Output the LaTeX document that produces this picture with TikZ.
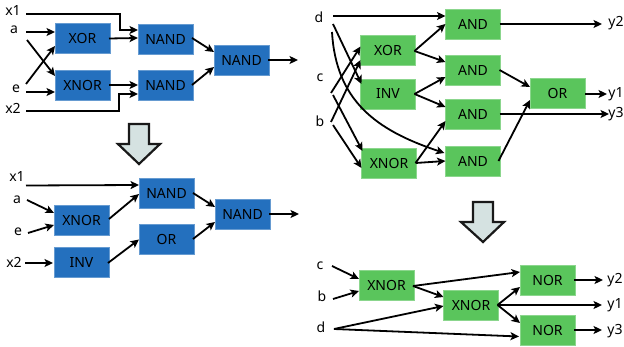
\documentclass[tikz,border=0pt]{standalone}
\usepackage{fontspec}
\setmainfont{Noto Sans}
\usetikzlibrary{arrows.meta,calc}
\definecolor{gblue}{HTML}{2470BE}
\definecolor{ggreen}{HTML}{5AC55C}
\definecolor{bigarrow}{HTML}{D5E2E1}
\tikzset{
  gate/.style={minimum width=55pt,minimum height=30pt,inner sep=0pt,outer sep=0pt,font=\fontsize{14}{14}\selectfont,text=black},
  bluegate/.style={gate,fill=gblue,draw=gblue!70!white,line width=.6pt},
  greengate/.style={gate,fill=ggreen,draw=ggreen!70!white,line width=.6pt},
  sig/.style={inner sep=0pt,outer sep=0pt,anchor=base,font=\fontsize{14}{14}\selectfont,text=black},
  wire/.style={line width=1.8pt,black,-{Stealth[length=8.5pt,width=8pt,inset=2pt]}},
  down/.style={line width=2.2pt,draw=black!90,fill=bigarrow,miter limit=10}
}
\begin{document}
\begin{tikzpicture}[x=1pt,y=-1pt]
\useasboundingbox (0,0) rectangle (624,347);
% ---------- top left
\node[bluegate] (t1) at (82.5,38.5) {XOR};
\node[bluegate] (t2) at (82.5,85) {XNOR};
\node[bluegate] (t3) at (165.5,39) {NAND};
\node[bluegate] (t4) at (165.5,85) {NAND};
\node[bluegate] (t5) at (241.5,60) {NAND};
\node[sig] (tx1) at (13,16) {x1};
\node[sig] (ta) at (14,34) {a};
\node[sig] (te) at (16,93) {e};
\node[sig] (tx2) at (13,114) {x2};
\coordinate (tout) at (298,60);
\draw[wire] ($(tx1.base)+(13,-2)$) -| ($(t3.west)+(-18,-9)$) -- ($(t3.west)+(0,-9)$);
\draw[wire] ($(ta.base)+(12,-2)$) -- ($(t1.west)+(0,-6.5)$);
\draw[wire] ($(ta.base)+(13,6)$) -- ($(t2.west)+(0,-9)$);
\draw[wire] ($(te.base)+(10,-9)$) -- ($(t1.west)+(0,7.5)$);
\draw[wire] ($(te.base)+(10,-1)$) -- ($(t2.west)+(0,7)$);
\draw[wire] ($(tx2.base)+(13,-3)$) -| ($(t4.west)+(-19,9)$) -- ($(t4.west)+(0,9)$);
\draw[wire] ($(t1.east)+(-1,0)$) -- ($(t3.west)+(0,-1)$);
\draw[wire] ($(t2.east)+(-1,0)$) -- (t4.west);
\draw[wire] ($(t3.east)+(-1,-1)$) -- ($(t5.west)+(0,-8)$);
\draw[wire] ($(t4.east)+(-1,0)$) -- ($(t5.west)+(0,7)$);
\draw[wire] ($(t5.east)+(-1,0)$) -- (tout);
% ---------- arrow 1
\draw[down] (129,124) -- (149,124) -- (149,144) -- (160,144) -- (139,164) -- (118,144) -- (129,144) -- cycle;
% ---------- bottom left
\node[bluegate] (b1) at (166.5,193) {NAND};
\node[bluegate] (b2) at (81.5,220) {XNOR};
\node[bluegate] (b3) at (81.5,262.5) {INV};
\node[bluegate] (b4) at (166.5,239.5) {OR};
\node[bluegate] (b5) at (242.5,214) {NAND};
\node[sig] (bx1) at (17,182) {x1};
\node[sig] (ba) at (17,204) {a};
\node[sig] (be) at (18,236) {e};
\node[sig] (bx2) at (14,268) {x2};
\coordinate (bout) at (299,214);
\draw[wire] ($(bx1.base)+(9,3.5)$) -- ($(b1.west)+(0,-8)$);
\draw[wire] ($(ba.base)+(10,-4)$) -- ($(b2.west)+(0,-7)$);
\draw[wire] ($(be.base)+(10,-3)$) -- ($(b2.west)+(0,5)$);
\draw[wire] ($(bx2.base)+(11,-5)$) -- ($(b3.west)+(-1,0.5)$);
\draw[wire] ($(b2.east)+(0,-1)$) -- ($(b1.west)+(0,1)$);
\draw[wire] ($(b3.east)+(-1,0.5)$) -- (b4.west);
\draw[wire] ($(b1.east)+(-1,0)$) -- ($(b5.west)+(0,-7)$);
\draw[wire] ($(b4.east)+(-1,-0.5)$) -- ($(b5.west)+(0,8)$);
\draw[wire] ($(b5.east)+(-1,0)$) -- (bout);
% ---------- top right
\node[greengate] (r1) at (388,50.5) {XOR};
\node[greengate] (r2) at (388,94) {INV};
\node[greengate] (r3) at (389,163) {XNOR};
\node[greengate] (r4) at (473,24) {AND};
\node[greengate] (r5) at (473,70) {AND};
\node[greengate] (r6) at (473,114) {AND};
\node[greengate] (r7) at (473,161) {AND};
\node[greengate] (r8) at (557.5,93) {OR};
\node[sig] (rd) at (319,23) {d};
\node[sig] (rc) at (320,82) {c};
\node[sig] (rb) at (320,127) {b};
\node[sig] (ry2) at (616,27) {y2};
\node[sig] (ry1) at (616,98) {y1};
\node[sig] (ry3) at (616,118) {y3};
\draw[wire] ($(rd.base)+(14,-7)$) -- ($(r4.west)+(0,-8)$);
\draw[wire] ($(rd.base)+(14,1)$) -- ($(r2.west)+(1,-10)$);
\draw[wire] ($(rd.base)+(13,9)$) .. controls (336,100) and (375,130) .. ($(r7.west)+(-1,-8)$);
\draw[wire] ($(rc.base)+(11,11)$) -- ($(r1.west)+(0,-4)$);
\draw[wire] ($(rc.base)+(13,13)$) -- ($(r3.west)+(1,-12)$);
\draw[wire] ($(rb.base)+(11,-5)$) -- ($(r1.west)+(0,9.5)$);
\draw[wire] ($(rb.base)+(13,-2)$) -- ($(r3.west)+(0,5)$);
\draw[wire] ($(r1.east)+(-1,0.5)$) -- ($(r4.west)+(0,0)$);
\draw[wire] ($(r1.east)+(-1,0.5)$) -- ($(r5.west)+(0,-8)$);
\draw[wire] ($(r2.east)+(-1,0)$) -- ($(r5.west)+(0,7)$);
\draw[wire] ($(r2.east)+(-1,0)$) -- ($(r6.west)+(0,-7)$);
\draw[wire] ($(r3.east)+(-1,0)$) -- ($(r6.west)+(0,7)$);
\draw[wire] ($(r3.east)+(-1,0)$) -- (r7.west);
\draw[wire] ($(r4.east)+(-1,0)$) -- ($(ry2.base)+(-14,-3)$);
\draw[wire] ($(r5.east)+(-1,0)$) -- ($(r8.west)+(0,-6)$);
\draw[wire] ($(r6.east)+(-1,0)$) -- ($(ry3.base)+(-7,-4)$);
\draw[wire] ($(r7.east)+(-2,0)$) -- ($(r8.west)+(0,7)$);
\draw[wire] ($(r8.east)+(0,1)$) -- ($(ry1.base)+(-9,-4)$);
% ---------- arrow 2
\draw[down] (473,202) -- (493,202) -- (493,222) -- (504,222) -- (483,242) -- (461,222) -- (473,222) -- cycle;
% ---------- bottom right
\node[greengate] (s1) at (386.5,285.5) {XNOR};
\node[greengate] (s2) at (471,305) {XNOR};
\node[greengate] (s3) at (547.5,280) {NOR};
\node[greengate] (s4) at (547.5,330.5) {NOR};
\node[sig] (sc) at (320,270) {c};
\node[sig] (sb) at (322,302) {b};
\node[sig] (sd) at (321,333) {d};
\node[sig] (sy2) at (615,284) {y2};
\node[sig] (sy1) at (615,309) {y1};
\node[sig] (sy3) at (615,335) {y3};
\draw[wire] ($(sc.base)+(12,-4)$) -- ($(s1.west)+(0,-6.5)$);
\draw[wire] ($(sb.base)+(11,-3)$) -- ($(s1.west)+(0,5.5)$);
\draw[wire] ($(sd.base)+(13,-4)$) -- ($(s2.west)+(0,1)$);
\draw[wire] ($(sd.base)+(13,-4)$) -- ($(s4.west)+(-1,6)$);
\draw[wire] ($(s1.east)+(-1,0.5)$) -- ($(s3.west)+(0,-8)$);
\draw[wire] ($(s1.east)+(-1,0.5)$) -- ($(s2.west)+(0,-8)$);
\draw[wire] ($(s2.east)+(-1,0)$) -- ($(s3.west)+(0,7)$);
\draw[wire] ($(s2.east)+(-1,0)$) -- ($(sy1.base)+(-13,-4)$);
\draw[wire] ($(s2.east)+(-1,0)$) -- ($(s4.west)+(0,-7.5)$);
\draw[wire] ($(s3.east)+(-1,0)$) -- ($(sy2.base)+(-12,-4)$);
\draw[wire] ($(s4.east)+(-1,-0.5)$) -- ($(sy3.base)+(-13,-5)$);
\end{tikzpicture}
\end{document}
